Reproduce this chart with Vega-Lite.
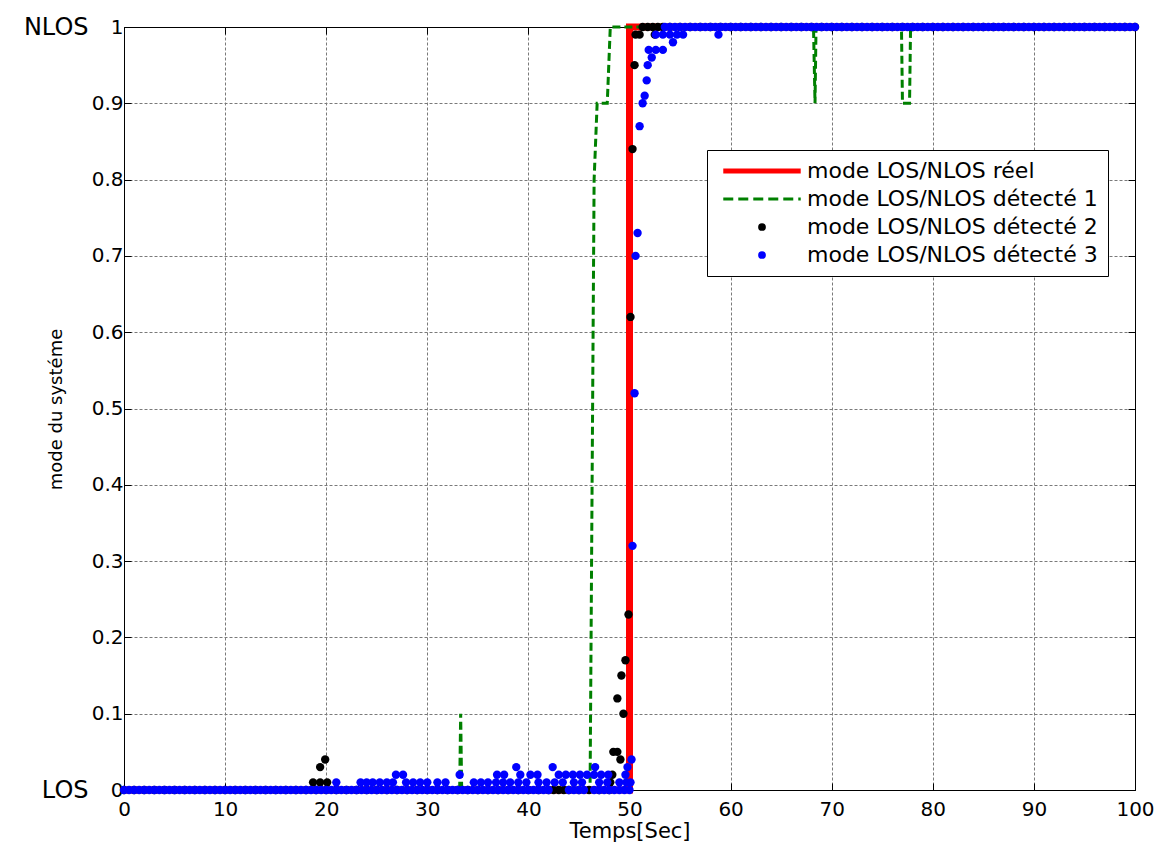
{
  "$schema": "https://vega.github.io/schema/vega-lite/v6.json",
  "width": 1011,
  "height": 763,
  "autosize": {"type": "none"},
  "padding": {"left": 124, "top": 27, "right": 26, "bottom": 53},
  "background": "white",
  "config": {
    "view": {"stroke": "black", "strokeWidth": 1},
    "font": "DejaVu Sans",
    "axis": {
      "domainColor": "black", "tickColor": "black", "labelColor": "black", "titleColor": "black",
      "labelFont": "DejaVu Sans", "titleFont": "DejaVu Sans", "titleFontWeight": "normal",
      "gridColor": "#7a7a7a", "gridDash": [3, 2], "gridOpacity": 1, "gridWidth": 1,
      "tickSize": -7, "labelFontSize": 20
    }
  },
  "datasets": {
    "real": [{"t":0,"v":0},{"t":50,"v":0},{"t":50,"v":1},{"t":100,"v":1}],
    "det1": [{"t":0,"v":0},{"t":33.2,"v":0},{"t":33.3,"v":0.1},{"t":33.4,"v":0},{"t":46.1,"v":0},{"t":46.5,"v":0.8},{"t":46.8,"v":0.9},{"t":47.8,"v":0.9},{"t":48.1,"v":1},{"t":68.2,"v":1},{"t":68.35,"v":0.9},{"t":68.45,"v":1},{"t":76.9,"v":1},{"t":77.0,"v":0.9},{"t":77.7,"v":0.9},{"t":77.8,"v":1},{"t":100,"v":1}],
    "det2": [
      {"t":0,"v":0},{"t":1,"v":0},{"t":2,"v":0},{"t":3,"v":0},{"t":4,"v":0},{"t":5,"v":0},{"t":6,"v":0},{"t":7,"v":0},{"t":8,"v":0},{"t":9,"v":0},
      {"t":10,"v":0},{"t":11,"v":0},{"t":12,"v":0},{"t":13,"v":0},{"t":14,"v":0},{"t":15,"v":0},{"t":16,"v":0},{"t":17,"v":0},{"t":18,"v":0},{"t":19,"v":0},
      {"t":20,"v":0},{"t":21,"v":0},{"t":22,"v":0},{"t":23,"v":0},{"t":24,"v":0},{"t":25,"v":0},{"t":26,"v":0},{"t":27,"v":0},{"t":28,"v":0},{"t":29,"v":0},
      {"t":30,"v":0},{"t":31,"v":0},{"t":32,"v":0},{"t":33,"v":0},{"t":34,"v":0},{"t":35,"v":0},{"t":36,"v":0},{"t":37,"v":0},{"t":38,"v":0},{"t":39,"v":0},
      {"t":40,"v":0},{"t":41,"v":0},{"t":42,"v":0},{"t":42.5,"v":0},{"t":43,"v":0},{"t":43.5,"v":0},{"t":44,"v":0},{"t":45,"v":0},{"t":46,"v":0},{"t":47,"v":0},{"t":48,"v":0},
      {"t":18.7,"v":0.01},{"t":19.4,"v":0.01},{"t":20.1,"v":0.01},{"t":19.4,"v":0.03},{"t":19.9,"v":0.04},
      {"t":48.1,"v":0.01},{"t":48.3,"v":0.02},{"t":48.4,"v":0.05},{"t":48.8,"v":0.05},{"t":49.1,"v":0.04},{"t":48.8,"v":0.12},{"t":49.4,"v":0.1},{"t":49.2,"v":0.15},{"t":49.6,"v":0.17},{"t":49.9,"v":0.23},{"t":50.1,"v":0.62},{"t":50.3,"v":0.84},{"t":50.5,"v":0.95},{"t":50.6,"v":0.99},{"t":51.0,"v":0.99},{"t":52.5,"v":0.99},
      {"t":51.3,"v":1},{"t":51.8,"v":1},{"t":52.3,"v":1},{"t":52.8,"v":1},{"t":53.3,"v":1},{"t":54,"v":1},{"t":55,"v":1},{"t":56,"v":1},{"t":57,"v":1},{"t":58,"v":1},{"t":59,"v":1},
      {"t":60,"v":1},{"t":61,"v":1},{"t":62,"v":1},{"t":63,"v":1},{"t":64,"v":1},{"t":65,"v":1},{"t":66,"v":1},{"t":67,"v":1},{"t":68,"v":1},{"t":69,"v":1},
      {"t":70,"v":1},{"t":71,"v":1},{"t":72,"v":1},{"t":73,"v":1},{"t":74,"v":1},{"t":75,"v":1},{"t":76,"v":1},{"t":77,"v":1},{"t":78,"v":1},{"t":79,"v":1},
      {"t":80,"v":1},{"t":81,"v":1},{"t":82,"v":1},{"t":83,"v":1},{"t":84,"v":1},{"t":85,"v":1},{"t":86,"v":1},{"t":87,"v":1},{"t":88,"v":1},{"t":89,"v":1},
      {"t":90,"v":1},{"t":91,"v":1},{"t":92,"v":1},{"t":93,"v":1},{"t":94,"v":1},{"t":95,"v":1},{"t":96,"v":1},{"t":97,"v":1},{"t":98,"v":1},{"t":99,"v":1},{"t":100,"v":1}
    ],
    "det3": [
      {"t":0,"v":0},{"t":0.5,"v":0},{"t":1,"v":0},{"t":1.5,"v":0},{"t":2,"v":0},{"t":2.5,"v":0},{"t":3,"v":0},{"t":3.5,"v":0},{"t":4,"v":0},{"t":4.5,"v":0},
      {"t":5,"v":0},{"t":5.5,"v":0},{"t":6,"v":0},{"t":6.5,"v":0},{"t":7,"v":0},{"t":7.5,"v":0},{"t":8,"v":0},{"t":8.5,"v":0},{"t":9,"v":0},{"t":9.5,"v":0},
      {"t":10,"v":0},{"t":10.5,"v":0},{"t":11,"v":0},{"t":11.5,"v":0},{"t":12,"v":0},{"t":12.5,"v":0},{"t":13,"v":0},{"t":13.5,"v":0},{"t":14,"v":0},{"t":14.5,"v":0},
      {"t":15,"v":0},{"t":15.5,"v":0},{"t":16,"v":0},{"t":16.5,"v":0},{"t":17,"v":0},{"t":17.5,"v":0},{"t":18,"v":0},{"t":18.5,"v":0},{"t":19,"v":0},{"t":19.5,"v":0},
      {"t":20,"v":0},{"t":20.5,"v":0},{"t":21,"v":0},{"t":21.5,"v":0},{"t":22,"v":0},{"t":22.5,"v":0},{"t":23,"v":0},{"t":23.5,"v":0},{"t":24,"v":0},{"t":24.5,"v":0},
      {"t":25,"v":0},{"t":25.5,"v":0},{"t":26,"v":0},{"t":26.5,"v":0},{"t":27,"v":0},{"t":27.5,"v":0},{"t":28,"v":0},{"t":28.5,"v":0},{"t":29,"v":0},{"t":29.5,"v":0},
      {"t":30,"v":0},{"t":30.5,"v":0},{"t":31,"v":0},{"t":31.5,"v":0},{"t":32,"v":0},{"t":32.5,"v":0},{"t":33,"v":0},{"t":33.5,"v":0},{"t":34,"v":0},{"t":34.5,"v":0},
      {"t":35,"v":0},{"t":35.5,"v":0},{"t":36,"v":0},{"t":36.5,"v":0},{"t":37,"v":0},{"t":37.5,"v":0},{"t":38,"v":0},{"t":38.5,"v":0},{"t":39,"v":0},{"t":39.5,"v":0},
      {"t":40,"v":0},{"t":40.5,"v":0},{"t":41,"v":0},{"t":41.5,"v":0},{"t":42,"v":0},{"t":44,"v":0},{"t":44.5,"v":0},{"t":45,"v":0},{"t":45.5,"v":0},
      {"t":46.5,"v":0},{"t":47,"v":0},{"t":47.5,"v":0},{"t":48,"v":0},{"t":48.5,"v":0},{"t":49,"v":0},{"t":49.5,"v":0},{"t":50,"v":0},
      {"t":21.0,"v":0.01},{"t":23.4,"v":0.01},{"t":24.0,"v":0.01},{"t":24.6,"v":0.01},{"t":25.3,"v":0.01},{"t":26.0,"v":0.01},{"t":26.6,"v":0.01},{"t":27.9,"v":0.01},{"t":28.6,"v":0.01},{"t":29.3,"v":0.01},
      {"t":30.0,"v":0.01},{"t":31.0,"v":0.01},{"t":31.8,"v":0.01},{"t":34.6,"v":0.01},{"t":35.3,"v":0.01},{"t":36.0,"v":0.01},{"t":36.8,"v":0.01},{"t":37.5,"v":0.01},{"t":38.2,"v":0.01},{"t":39.0,"v":0.01},
      {"t":39.8,"v":0.01},{"t":41.0,"v":0.01},{"t":41.8,"v":0.01},{"t":42.6,"v":0.01},{"t":43.4,"v":0.01},{"t":44.5,"v":0.01},{"t":45.3,"v":0.01},{"t":47.0,"v":0.01},{"t":47.8,"v":0.01},{"t":49.0,"v":0.01},{"t":49.7,"v":0.01},{"t":50.1,"v":0.01},
      {"t":26.9,"v":0.02},{"t":27.6,"v":0.02},{"t":33.2,"v":0.02},{"t":36.9,"v":0.02},{"t":37.6,"v":0.02},{"t":39.2,"v":0.02},{"t":40.2,"v":0.02},{"t":40.9,"v":0.02},{"t":43.0,"v":0.02},{"t":43.7,"v":0.02},
      {"t":44.4,"v":0.02},{"t":45.1,"v":0.02},{"t":45.8,"v":0.02},{"t":46.5,"v":0.02},{"t":47.2,"v":0.02},{"t":47.9,"v":0.02},{"t":49.6,"v":0.02},
      {"t":38.8,"v":0.03},{"t":42.4,"v":0.03},{"t":46.6,"v":0.03},{"t":49.8,"v":0.03},{"t":50.2,"v":0.04},
      {"t":50.3,"v":0.32},{"t":50.5,"v":0.52},{"t":50.6,"v":0.7},{"t":50.8,"v":0.73},{"t":51.0,"v":0.87},{"t":51.3,"v":0.9},{"t":51.5,"v":0.91},{"t":51.7,"v":0.93},{"t":51.8,"v":0.95},{"t":52.2,"v":0.96},
      {"t":51.9,"v":0.97},{"t":52.6,"v":0.97},{"t":53.3,"v":0.97},{"t":54.3,"v":0.98},{"t":52.6,"v":0.99},{"t":53.3,"v":0.99},{"t":54.0,"v":0.99},{"t":54.7,"v":0.99},{"t":55.3,"v":0.99},{"t":58.8,"v":0.99},
      {"t":53.5,"v":1},{"t":54,"v":1},{"t":54.5,"v":1},{"t":55,"v":1},{"t":55.5,"v":1},{"t":56,"v":1},{"t":56.5,"v":1},{"t":57,"v":1},{"t":57.5,"v":1},{"t":58,"v":1},{"t":58.5,"v":1},{"t":59,"v":1},{"t":59.5,"v":1},
      {"t":60,"v":1},{"t":60.5,"v":1},{"t":61,"v":1},{"t":61.5,"v":1},{"t":62,"v":1},{"t":62.5,"v":1},{"t":63,"v":1},{"t":63.5,"v":1},{"t":64,"v":1},{"t":64.5,"v":1},
      {"t":65,"v":1},{"t":65.5,"v":1},{"t":66,"v":1},{"t":66.5,"v":1},{"t":67,"v":1},{"t":67.5,"v":1},{"t":68,"v":1},{"t":68.5,"v":1},{"t":69,"v":1},{"t":69.5,"v":1},
      {"t":70,"v":1},{"t":70.5,"v":1},{"t":71,"v":1},{"t":71.5,"v":1},{"t":72,"v":1},{"t":72.5,"v":1},{"t":73,"v":1},{"t":73.5,"v":1},{"t":74,"v":1},{"t":74.5,"v":1},
      {"t":75,"v":1},{"t":75.5,"v":1},{"t":76,"v":1},{"t":76.5,"v":1},{"t":77,"v":1},{"t":77.5,"v":1},{"t":78,"v":1},{"t":78.5,"v":1},{"t":79,"v":1},{"t":79.5,"v":1},
      {"t":80,"v":1},{"t":80.5,"v":1},{"t":81,"v":1},{"t":81.5,"v":1},{"t":82,"v":1},{"t":82.5,"v":1},{"t":83,"v":1},{"t":83.5,"v":1},{"t":84,"v":1},{"t":84.5,"v":1},
      {"t":85,"v":1},{"t":85.5,"v":1},{"t":86,"v":1},{"t":86.5,"v":1},{"t":87,"v":1},{"t":87.5,"v":1},{"t":88,"v":1},{"t":88.5,"v":1},{"t":89,"v":1},{"t":89.5,"v":1},
      {"t":90,"v":1},{"t":90.5,"v":1},{"t":91,"v":1},{"t":91.5,"v":1},{"t":92,"v":1},{"t":92.5,"v":1},{"t":93,"v":1},{"t":93.5,"v":1},{"t":94,"v":1},{"t":94.5,"v":1},
      {"t":95,"v":1},{"t":95.5,"v":1},{"t":96,"v":1},{"t":96.5,"v":1},{"t":97,"v":1},{"t":97.5,"v":1},{"t":98,"v":1},{"t":98.5,"v":1},{"t":99,"v":1},{"t":99.5,"v":1},{"t":100,"v":1}
    ]
  },
  "resolve": {"axis": {"x": "independent", "y": "independent"}},
  "layer": [
    {
      "data": {"name": "real"},
      "mark": {"type": "line", "strokeWidth": 7, "clip": false},
      "encoding": {
        "x": {"field": "t", "type": "quantitative",
          "scale": {"domain": [0, 100], "nice": false, "zero": false},
          "axis": {"orient": "bottom", "values": [0,10,20,30,40,50,60,70,80,90,100], "grid": true,
            "title": "Temps[Sec]", "titleFontSize": 21, "titlePadding": 1, "labelPadding": 16, "labelFlush": false}},
        "y": {"field": "v", "type": "quantitative",
          "scale": {"domain": [0, 1], "nice": false, "zero": false},
          "axis": {"orient": "left", "values": [0,0.1,0.2,0.3,0.4,0.5,0.6,0.7,0.8,0.9,1], "format": "~g", "grid": true,
            "title": "mode du systéme", "titleFontSize": 18, "titleX": -59, "titleY": 382, "titleAlign": "center", "labelPadding": 8, "labelFlush": false}},
        "color": {"datum": "mode LOS/NLOS réel", "type": "nominal",
          "scale": {"domain": ["mode LOS/NLOS réel", "mode LOS/NLOS détecté 1", "mode LOS/NLOS détecté 2", "mode LOS/NLOS détecté 3"],
                    "range": ["#ff0000", "#008000", "#000000", "#0000ff"]},
          "legend": {"orient": "none", "legendX": 583, "legendY": 123, "title": null, "direction": "vertical",
            "strokeColor": "black", "fillColor": "white", "padding": 10, "cornerRadius": 0,
            "labelFont": "DejaVu Sans", "labelFontSize": 22, "labelColor": "black", "labelLimit": 500,
            "symbolSize": 6000, "symbolOffset": 34, "labelOffset": 34, "rowPadding": 6,
            "encode": {"symbols": {"update": {
              "shape": {"signal": "datum.value == 'mode LOS/NLOS réel' || datum.value == 'mode LOS/NLOS détecté 1' ? 'stroke' : 'circle'"},
              "size": {"signal": "datum.value == 'mode LOS/NLOS réel' || datum.value == 'mode LOS/NLOS détecté 1' ? 6000 : 60"},
              "stroke": {"scale": "color", "field": "value"},
              "fill": {"scale": "color", "field": "value"},
              "strokeWidth": {"signal": "datum.value == 'mode LOS/NLOS réel' ? 5 : datum.value == 'mode LOS/NLOS détecté 1' ? 3 : 0"},
              "strokeDash": {"signal": "datum.value == 'mode LOS/NLOS détecté 1' ? [10,5] : [1,0]"},
              "opacity": {"value": 1}, "fillOpacity": {"value": 1}, "strokeOpacity": {"value": 1}
            }}}}},
        "order": {"value": null}
      }
    },
    {
      "data": {"name": "det1"},
      "mark": {"type": "line", "strokeWidth": 3, "strokeDash": [8, 4], "clip": false},
      "encoding": {
        "x": {"field": "t", "type": "quantitative",
          "axis": {"orient": "top", "values": [0,10,20,30,40,50,60,70,80,90,100], "labels": false, "grid": false, "title": null}},
        "y": {"field": "v", "type": "quantitative",
          "axis": {"orient": "right", "values": [0,0.1,0.2,0.3,0.4,0.5,0.6,0.7,0.8,0.9,1], "labels": false, "grid": false, "title": null}},
        "color": {"datum": "mode LOS/NLOS détecté 1", "type": "nominal"},
        "order": {"value": null}
      }
    },
    {
      "data": {"name": "det2"},
      "mark": {"type": "point", "filled": true, "size": 70, "opacity": 1, "clip": false},
      "encoding": {
        "x": {"field": "t", "type": "quantitative", "axis": null},
        "y": {"field": "v", "type": "quantitative",
          "axis": {"orient": "left", "values": [0, 1], "labelExpr": "datum.value == 1 ? 'NLOS' : 'LOS'",
            "labelFontSize": 24, "ticks": false, "domain": false, "grid": false, "title": null,
            "offset": 36, "labelPadding": 0, "labelFlush": false}},
        "color": {"datum": "mode LOS/NLOS détecté 2", "type": "nominal"}
      }
    },
    {
      "data": {"name": "det3"},
      "mark": {"type": "point", "filled": true, "size": 70, "opacity": 1, "clip": false},
      "encoding": {
        "x": {"field": "t", "type": "quantitative", "axis": null},
        "y": {"field": "v", "type": "quantitative", "axis": null},
        "color": {"datum": "mode LOS/NLOS détecté 3", "type": "nominal"}
      }
    }
  ]
}
